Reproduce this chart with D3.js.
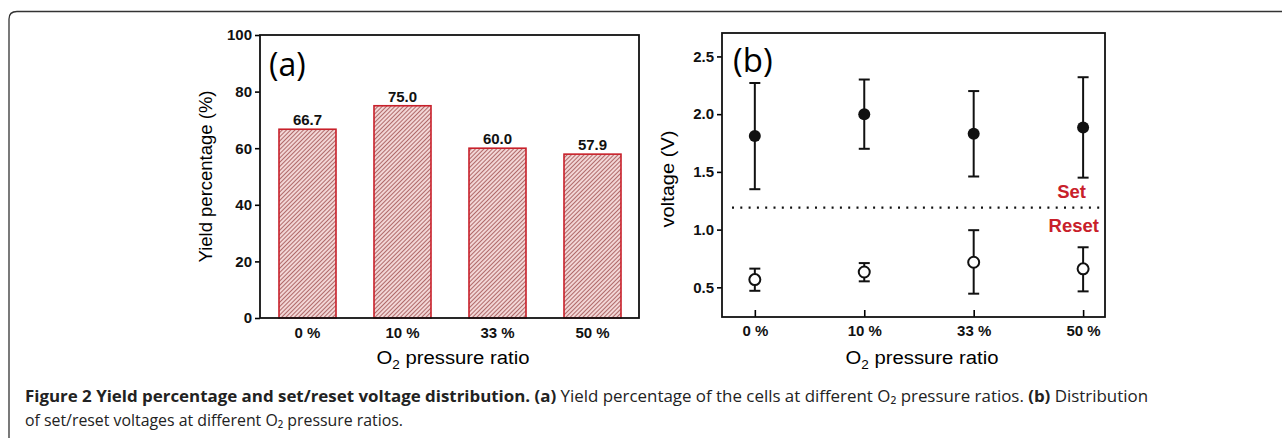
<!DOCTYPE html>
<html>
<head>
<meta charset="utf-8">
<script src="https://cdn.jsdelivr.net/npm/d3@7"></script>
<style>
  body { margin: 0; background: #fff; }
  svg { display: block; }
</style>
</head>
<body>
<svg id="canvas"></svg>
<script>
// Figure size
const width = 1282, height = 438;

// Data: panel (a) yield percentage
const ratios = ["0 %", "10 %", "33 %", "50 %"];
const yieldValues = [66.7, 75.0, 60.0, 57.9];
const yieldTicks = [0, 20, 40, 60, 80, 100];

// Data: panel (b) set / reset voltages (mean, lower, upper)
const setMean = [1.81, 2.00, 1.83, 1.885];
const setLow = [1.35, 1.70, 1.46, 1.45];
const setHigh = [2.27, 2.30, 2.20, 2.32];
const resetMean = [0.567, 0.633, 0.717, 0.66];
const resetLow = [0.47, 0.552, 0.445, 0.465];
const resetHigh = [0.662, 0.71, 0.995, 0.847];
const voltTicks = [0.5, 1.0, 1.5, 2.0, 2.5];
const thresholdV = 1.19;

const red = "#c8202a";
const tickFont = "Arial, 'Liberation Sans', sans-serif";

const svg = d3.select("#canvas")
    .attr("width", width)
    .attr("height", height);

// Outer figure frame (rounded corner at top-left)
svg.append("path")
    .attr("d", `M9,${height + 2} L9,19 Q9,11.5 17,11.5 L${width + 2},11.5`)
    .attr("fill", "none")
    .attr("stroke", "#333")
    .attr("stroke-width", 1.3);

// Hatch pattern for bars
const defs = svg.append("defs");
const pat = defs.append("pattern")
    .attr("id", "hatch")
    .attr("patternUnits", "userSpaceOnUse")
    .attr("width", 3)
    .attr("height", 3)
    .attr("patternTransform", "rotate(45)");
pat.append("rect").attr("width", 3).attr("height", 3).attr("fill", "#f2d6d6");
pat.append("line")
    .attr("x1", 0).attr("y1", 0).attr("x2", 0).attr("y2", 3)
    .attr("stroke", "#9a4646")
    .attr("stroke-width", 1.5);

// style helper for tick labels
function styleTicks(g) {
    g.selectAll("text")
        .attr("font-family", tickFont)
        .attr("font-weight", "bold")
        .attr("font-size", 15)
        .attr("fill", "#111");
    g.selectAll("line").attr("stroke-width", 1.6);
}

// ---------------- Panel (a) ----------------
const ax0 = 260, ax1 = 639, ay0 = 35, ay1 = 318;

const xA = d3.scaleBand()
    .domain(ratios)
    .range([ax0, ax1 + 1])
    .paddingInner(0.4)
    .paddingOuter(0.2);

const yA = d3.scaleLinear().domain([0, 100]).range([ay1, ay0]);

const gA = svg.append("g");

gA.selectAll("rect.bar")
    .data(yieldValues)
    .enter().append("rect")
    .attr("class", "bar")
    .attr("x", (d, i) => xA(ratios[i]))
    .attr("y", d => yA(d))
    .attr("width", xA.bandwidth())
    .attr("height", d => yA(0) - yA(d))
    .attr("fill", "url(#hatch)")
    .attr("stroke", red)
    .attr("stroke-width", 1.6);

gA.selectAll("text.val")
    .data(yieldValues)
    .enter().append("text")
    .attr("class", "val")
    .attr("x", (d, i) => xA(ratios[i]) + xA.bandwidth() / 2)
    .attr("y", d => yA(d) - 4)
    .attr("text-anchor", "middle")
    .attr("font-family", tickFont)
    .attr("font-weight", "bold")
    .attr("font-size", 15)
    .attr("fill", "#111")
    .text(d => d.toFixed(1));

// Y axis (a)
const yAxisA = d3.axisLeft(yA).tickValues(yieldTicks).tickSize(5).tickPadding(3);
gA.append("g")
    .attr("transform", `translate(${ax0},0)`)
    .call(yAxisA)
    .call(g => g.select(".domain").remove())
    .call(styleTicks);

// X axis (a) - labels only
const xAxisA = d3.axisBottom(xA).tickSize(0).tickPadding(9);
gA.append("g")
    .attr("transform", `translate(0,${ay1})`)
    .call(xAxisA)
    .call(g => g.select(".domain").remove())
    .call(styleTicks);

// Frame (a)
gA.append("rect")
    .attr("x", ax0).attr("y", ay0)
    .attr("width", ax1 - ax0).attr("height", ay1 - ay0)
    .attr("fill", "none")
    .attr("stroke", "#111")
    .attr("stroke-width", 1.8);

gA.append("text")
    .attr("x", 269).attr("y", 76)
    .attr("font-family", "'Open Sans', sans-serif")
    .attr("font-size", 32)
    .text("(a)");

gA.append("text")
    .attr("transform", `translate(212,${(ay0 + ay1) / 2}) rotate(-90)`)
    .attr("text-anchor", "middle")
    .attr("font-family", tickFont)
    .attr("font-size", 17.5)
    .attr("textLength", 172)
    .attr("lengthAdjust", "spacingAndGlyphs")
    .text("Yield percentage (%)");

function xTitle(g, cx, y) {
    const t = g.append("text")
        .attr("x", cx).attr("y", y)
        .attr("text-anchor", "middle")
        .attr("font-family", tickFont)
        .attr("font-size", 18)
        .attr("textLength", 153)
        .attr("lengthAdjust", "spacingAndGlyphs");
    t.append("tspan").text("O");
    t.append("tspan").attr("font-size", 12).attr("dy", 5).text("2");
    t.append("tspan").attr("dy", -5).text(" pressure ratio");
}
xTitle(gA, 453, 364);

// ---------------- Panel (b) ----------------
const bx0 = 722, bx1 = 1105, by0 = 33, by1 = 317;

const xB = d3.scaleLinear().domain([-0.3, 3.2]).range([bx0, bx1]);
const yB = d3.scaleLinear().domain([0.243, 2.703]).range([by1, by0]);

const gB = svg.append("g");

// Threshold dotted line
gB.append("line")
    .attr("x1", bx0 + 10).attr("x2", bx1 - 3)
    .attr("y1", yB(thresholdV)).attr("y2", yB(thresholdV))
    .attr("stroke", "#111")
    .attr("stroke-width", 2.2)
    .attr("stroke-dasharray", "2,6.3");

gB.append("text")
    .attr("x", 1086).attr("y", 198)
    .attr("text-anchor", "end")
    .attr("font-family", tickFont)
    .attr("font-weight", "bold")
    .attr("font-size", 18.5)
    .attr("fill", red)
    .text("Set");

gB.append("text")
    .attr("x", 1099).attr("y", 231.5)
    .attr("text-anchor", "end")
    .attr("font-family", tickFont)
    .attr("font-weight", "bold")
    .attr("font-size", 18.5)
    .attr("fill", red)
    .text("Reset");

// Error bars
function drawErrors(mean, low, high, filled) {
    const g = gB.append("g");
    const idx = mean.map((d, i) => i);
    g.selectAll("line.stem")
        .data(idx).enter().append("line")
        .attr("x1", i => xB(i)).attr("x2", i => xB(i))
        .attr("y1", i => yB(low[i])).attr("y2", i => yB(high[i]))
        .attr("stroke", "#111").attr("stroke-width", 2);
    [low, high].forEach(arr => {
        g.selectAll(null)
            .data(idx).enter().append("line")
            .attr("x1", i => xB(i) - 5.5).attr("x2", i => xB(i) + 5.5)
            .attr("y1", i => yB(arr[i])).attr("y2", i => yB(arr[i]))
            .attr("stroke", "#111").attr("stroke-width", 2);
    });
    g.selectAll("circle")
        .data(idx).enter().append("circle")
        .attr("cx", i => xB(i))
        .attr("cy", i => yB(mean[i]))
        .attr("r", filled ? 6 : 5.5)
        .attr("fill", filled ? "#111" : "#fff")
        .attr("stroke", "#111")
        .attr("stroke-width", filled ? 0 : 2);
}
drawErrors(setMean, setLow, setHigh, true);
drawErrors(resetMean, resetLow, resetHigh, false);

// Y axis (b)
const yAxisB = d3.axisLeft(yB).tickValues(voltTicks).tickFormat(d3.format(".1f")).tickSize(5).tickPadding(3);
gB.append("g")
    .attr("transform", `translate(${bx0},0)`)
    .call(yAxisB)
    .call(g => g.select(".domain").remove())
    .call(styleTicks);

// X axis (b) with inward ticks
const xAxisB = d3.axisBottom(xB)
    .tickValues(d3.range(ratios.length))
    .tickFormat(i => ratios[i])
    .tickSize(-7)
    .tickPadding(8);
gB.append("g")
    .attr("transform", `translate(0,${by1})`)
    .call(xAxisB)
    .call(g => g.select(".domain").remove())
    .call(styleTicks);

gB.append("rect")
    .attr("x", bx0).attr("y", by0)
    .attr("width", bx1 - bx0).attr("height", by1 - by0)
    .attr("fill", "none")
    .attr("stroke", "#111")
    .attr("stroke-width", 1.8);

gB.append("text")
    .attr("x", 733).attr("y", 72)
    .attr("font-family", "'Open Sans', sans-serif")
    .attr("font-size", 33)
    .text("(b)");

gB.append("text")
    .attr("transform", `translate(674,179) rotate(-90)`)
    .attr("text-anchor", "middle")
    .attr("font-family", tickFont)
    .attr("font-size", 17.5)
    .attr("textLength", 97)
    .attr("lengthAdjust", "spacingAndGlyphs")
    .text("voltage (V)");

xTitle(gB, 922, 364);

// ---------------- Caption ----------------
const capFont = "'Open Sans', sans-serif";
const cap1 = svg.append("text")
    .attr("x", 25).attr("y", 402)
    .attr("font-family", capFont)
    .attr("font-size", 16)
    .attr("fill", "#222")
    .attr("textLength", 1123)
    .attr("lengthAdjust", "spacingAndGlyphs");
cap1.append("tspan").attr("font-weight", "bold").text("Figure 2 Yield percentage and set/reset voltage distribution. (a)");
cap1.append("tspan").text(" Yield percentage of the cells at different O\u2082 pressure ratios. ");
cap1.append("tspan").attr("font-weight", "bold").text("(b)");
cap1.append("tspan").text(" Distribution");

svg.append("text")
    .attr("x", 25).attr("y", 426)
    .attr("font-family", capFont)
    .attr("font-size", 16)
    .attr("fill", "#222")
    .attr("textLength", 378)
    .attr("lengthAdjust", "spacingAndGlyphs")
    .text("of set/reset voltages at different O\u2082 pressure ratios.");
</script>
</body>
</html>
